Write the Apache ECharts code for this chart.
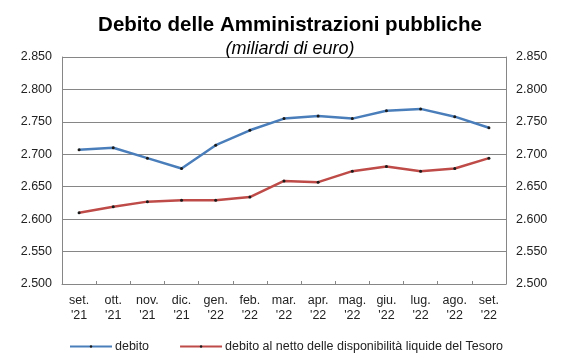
<!DOCTYPE html>
<html><head><meta charset="utf-8">
<script src="https://cdn.jsdelivr.net/npm/echarts@6/dist/echarts.min.js"></script>
<style>html,body{margin:0;padding:0;background:#fff}#c{width:580px;height:359px}</style>
</head><body><div id="c"></div>
<script>
const categories = ["set.\n'21","ott.\n'21","nov.\n'21","dic.\n'21","gen.\n'22","feb.\n'22","mar.\n'22","apr.\n'22","mag.\n'22","giu.\n'22","lug.\n'22","ago.\n'22","set.\n'22"];
const debito = [2707,2710,2694,2678,2714,2737,2755,2759,2755,2767,2770,2758,2741];
const debitoNetto = [2610,2619,2627,2629,2629,2634,2659,2657,2674,2681,2674,2678,2694];
const seriesNames = ["debito","debito al netto delle disponibilità liquide del Tesoro"];
const titleText = "Debito delle Amministrazioni pubbliche";
const subtitleText = "(miliardi di euro)";

const fmt = v => { const s = String(Math.round(v)); return s.slice(0, s.length-3) + '.' + s.slice(-3); };
const font = "'Liberation Sans', Arial, sans-serif";
const yBase = {
  type:'value', min:2500, max:2850, interval:50,
  axisLine:{show:true, lineStyle:{color:'#868686', width:1}},
  axisTick:{show:false},
  splitLine:{show:true, lineStyle:{color:'#868686', width:1}},
  axisLabel:{formatter:fmt, color:'#222', fontSize:12.5, fontFamily:font}
};
const chart = echarts.init(document.getElementById('c'), null, {renderer:'canvas'});
chart.setOption({
  animation:false,
  backgroundColor:'#fff',
  title:[
    {text:titleText, left:'center', top:10, textStyle:{fontSize:20.5, fontWeight:'bold', color:'#000', fontFamily:font}},
    {text:subtitleText, left:'center', top:35, textStyle:{fontSize:18, fontWeight:'normal', fontStyle:'italic', color:'#000', fontFamily:font}}
  ],
  grid:{left:62, right:74, top:57, bottom:75},
  xAxis:{
    type:'category', data:categories, boundaryGap:true,
    axisLine:{lineStyle:{color:'#868686'}},
    axisTick:{show:true, inside:true, length:3, lineStyle:{color:'#868686'}},
    axisLabel:{color:'#222', fontSize:12.5, fontFamily:font, lineHeight:15, margin:9, interval:0}
  },
  yAxis:[
    Object.assign({}, yBase, {position:'left', axisLabel:Object.assign({}, yBase.axisLabel, {margin:10})}),
    Object.assign({}, yBase, {position:'right', splitLine:{show:false}, axisLabel:Object.assign({}, yBase.axisLabel, {margin:10})})
  ],
  legend:{
    top:335, left:64, itemWidth:42, itemHeight:3, itemGap:30,
    textStyle:{fontSize:12.5, color:'#222', fontFamily:font, padding:[0,0,0,-2]},
    data:seriesNames
  },
  series:[
    {name:seriesNames[0], type:'line', data:debito, yAxisIndex:0,
     lineStyle:{color:'#4A7EBB', width:2.5}, symbol:'circle', symbolSize:3, showSymbol:true,
     itemStyle:{color:'#1a1a1a', borderWidth:0}},
    {name:seriesNames[1], type:'line', data:debitoNetto, yAxisIndex:0,
     lineStyle:{color:'#BE4B48', width:2.5}, symbol:'circle', symbolSize:3, showSymbol:true,
     itemStyle:{color:'#1a1a1a', borderWidth:0}}
  ]
});
</script></body></html>
